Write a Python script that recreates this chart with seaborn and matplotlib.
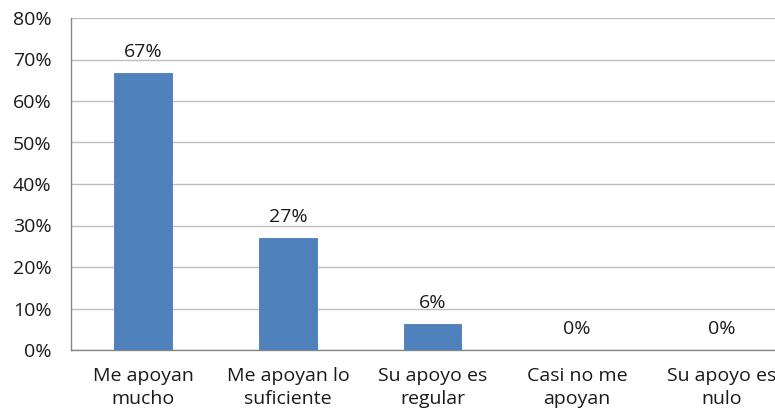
import numpy as np
import pandas as pd
import matplotlib
matplotlib.use('Agg')
import matplotlib.pyplot as plt
import seaborn as sns

categorias = ['Me apoyan\nmucho', 'Me apoyan lo\nsuficiente', 'Su apoyo es\nregular',
              'Casi no me\napoyan', 'Su apoyo es\nnulo']
porcentajes = [66.7, 27.0, 6.3, 0.0, 0.0]
etiquetas = ['67%', '27%', '6%', '0%', '0%']
yticks = [0, 10, 20, 30, 40, 50, 60, 70, 80]

df = pd.DataFrame({'cat': categorias, 'pct': porcentajes})

sns.set_style('white')
plt.rcParams['font.family'] = ['Open Sans', 'DejaVu Sans']

fs = 14
fig = plt.figure(figsize=(7.75, 4.08), dpi=100)
# plot area runs past the right edge like the original
ax = fig.add_axes([71 / 775, 58 / 408, 723 / 775, 332 / 408])

sns.barplot(data=df, x='cat', y='pct', color='#4F81BD', width=0.4, ax=ax,
            saturation=1, edgecolor='#4A7EBB', linewidth=0.6, zorder=3)

ax.set_ylim(0, 80)
ax.set_xlim(-0.5, 4.5)
ax.set_yticks(yticks)
ax.set_yticklabels([f'{t}%' for t in yticks], fontsize=fs, color='#1a1a1a')
ax.yaxis.grid(True, color='#BEBEBE', linewidth=1, zorder=0)
ax.set_axisbelow(True)

ax.set_xticks(range(len(categorias)))
ax.set_xticklabels(categorias, fontsize=fs, color='#1a1a1a', linespacing=1.35)
ax.set_xticks(np.arange(-0.5, 5, 1), minor=True)
ax.tick_params(axis='x', which='major', length=0, pad=12)
ax.tick_params(axis='x', which='minor', length=5, color='#868686', width=1)
ax.tick_params(axis='y', length=5, color='#868686', width=1, pad=9)
ax.set_xlabel('')
ax.set_ylabel('')

for s in ['top', 'right']:
    ax.spines[s].set_visible(False)
for s in ['left', 'bottom']:
    ax.spines[s].set_color('#868686')
    ax.spines[s].set_linewidth(1)

for i, (v, t) in enumerate(zip(porcentajes, etiquetas)):
    ax.annotate(t, (i, v), xytext=(0, 15), textcoords='offset points',
                ha='center', va='center', fontsize=fs, color='#1a1a1a')

fig.savefig('out.png', dpi=100)
